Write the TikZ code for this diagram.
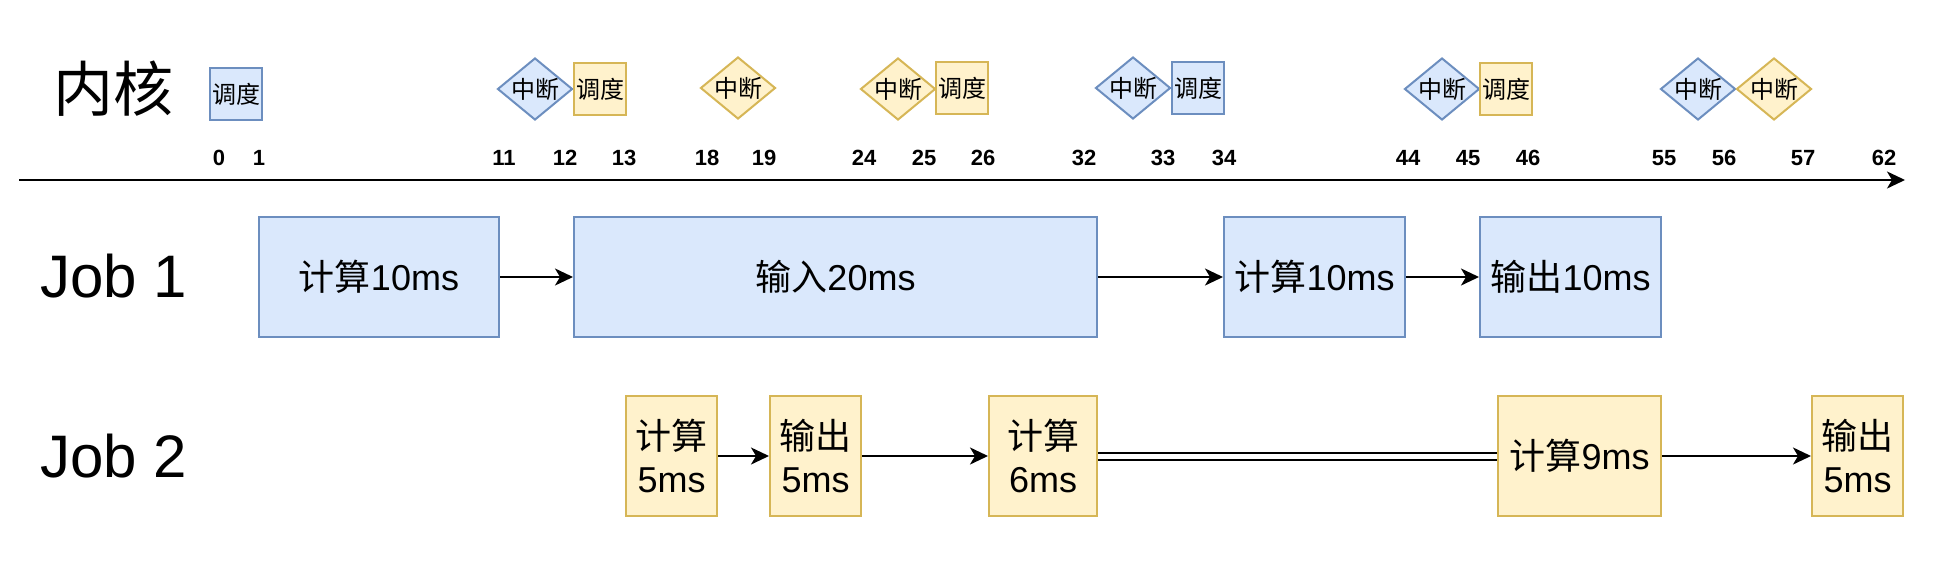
\documentclass[tikz,border=0pt]{standalone}
\usepackage{fontspec}
\setmainfont{Liberation Sans}
\newfontfamily\cjk{Noto Sans CJK SC}
\usetikzlibrary{shapes.geometric,arrows.meta}
\definecolor{bfill}{HTML}{DAE8FC}
\definecolor{bstroke}{HTML}{6C8EBF}
\definecolor{yfill}{HTML}{FFF2CC}
\definecolor{ystroke}{HTML}{D6B656}
\tikzset{
  jobbox/.style={rectangle, line width=2pt, inner sep=0pt, align=center, minimum height=120pt, anchor=north west, font=\fontsize{36pt}{43pt}\selectfont},
  bluebox/.style={jobbox, draw=bstroke, fill=bfill},
  yelbox/.style={jobbox, draw=ystroke, fill=yfill},
  kbox/.style={rectangle, line width=2pt, inner sep=0pt, minimum width=52pt, minimum height=52pt, font=\cjk\fontsize{24pt}{28pt}\selectfont},
  kdia/.style={diamond, line width=2pt, inner sep=0pt, minimum width=75pt, minimum height=62pt},
  kdtext/.style={font=\cjk\fontsize{24pt}{28pt}\selectfont, inner sep=0pt},
  ticklab/.style={font=\bfseries\fontsize{22pt}{26pt}\selectfont, inner sep=0pt},
  conn/.style={line width=2pt, -{Stealth[length=18pt,width=17pt,inset=5pt]}},
  bigtext/.style={font=\fontsize{60pt}{66pt}\selectfont, inner sep=0pt},
}
\begin{document}
\begin{tikzpicture}[x=1pt,y=-1pt]
\fill[white] (0,0) rectangle (1956,570);
\useasboundingbox (0,0) rectangle (1956,570);

% titles
\node[bigtext, font=\cjk\fontsize{60pt}{66pt}\selectfont] (kern) at (113,89) {内核};
\node[bigtext, anchor=base west] (job1) at (40,297) {Job 1};
\node[bigtext, anchor=base west] (job2) at (40,477) {Job 2};

% kernel row
\node[kbox, draw=bstroke, fill=bfill] (k0) at (236,94) {调度};
\node[kdia, draw=bstroke, fill=bfill, label={[kdtext]center:中断}] (d11) at (535,89) {};
\node[kbox, draw=ystroke, fill=yfill] (s12) at (600,89) {调度};
\node[kdia, draw=ystroke, fill=yfill, label={[kdtext]center:中断}] (d18) at (738,88) {};
\node[kdia, draw=ystroke, fill=yfill, label={[kdtext]center:中断}] (d24) at (898,89) {};
\node[kbox, draw=ystroke, fill=yfill] (s25) at (962,88) {调度};
\node[kdia, draw=bstroke, fill=bfill, label={[kdtext]center:中断}] (d32) at (1133,88) {};
\node[kbox, draw=bstroke, fill=bfill] (s33) at (1198,88) {调度};
\node[kdia, draw=bstroke, fill=bfill, label={[kdtext]center:中断}] (d44) at (1442,89) {};
\node[kbox, draw=ystroke, fill=yfill] (s45) at (1506,89) {调度};
\node[kdia, draw=bstroke, fill=bfill, label={[kdtext]center:中断}] (d55) at (1698,89) {};
\node[kdia, draw=ystroke, fill=yfill, label={[kdtext]center:中断}] (d56) at (1774,89) {};

% tick labels
\foreach \v/\xx in {0/219,1/259,11/504,12/565,13/624,18/707,19/764,24/864,25/924,26/983,32/1084,33/1163,34/1224,44/1408,45/1468,46/1528,55/1664,56/1724,57/1803,62/1884}
  \node[ticklab] (t\v) at (\xx,158) {\v};

% axis
\coordinate (ax0) at (19,180);
\coordinate (ax1) at (1905,180);
\draw[conn] (ax0) -- (ax1);

% Job 1
\node[bluebox, minimum width=240pt] (b1) at (258,216) {{\cjk 计算}10ms};
\node[bluebox, minimum width=523pt] (b2) at (573,216) {{\cjk 输入}20ms};
\node[bluebox, minimum width=181pt] (b3) at (1223,216) {{\cjk 计算}10ms};
\node[bluebox, minimum width=181pt] (b4) at (1479,216) {{\cjk 输出}10ms};
\draw[conn] (b1) -- (b2);
\draw[conn] (b2) -- (b3);
\draw[conn] (b3) -- (b4);

% Job 2
\node[yelbox, minimum width=91pt] (c1) at (625,395) {{\cjk 计算}\\5ms};
\node[yelbox, minimum width=91pt] (c2) at (769,395) {{\cjk 输出}\\5ms};
\node[yelbox, minimum width=108pt] (c3) at (988,395) {{\cjk 计算}\\6ms};
\node[yelbox, minimum width=163pt] (c4) at (1497,395) {{\cjk 计算}9ms};
\node[yelbox, minimum width=91pt] (c5) at (1811,395) {{\cjk 输出}\\5ms};
\draw[conn] (c1) -- (c2);
\draw[conn] (c2) -- (c3);
\draw[line width=2pt, double, double distance=5pt] (c3) -- (c4);
\draw[conn] (c4) -- (c5);
\end{tikzpicture}
\end{document}
